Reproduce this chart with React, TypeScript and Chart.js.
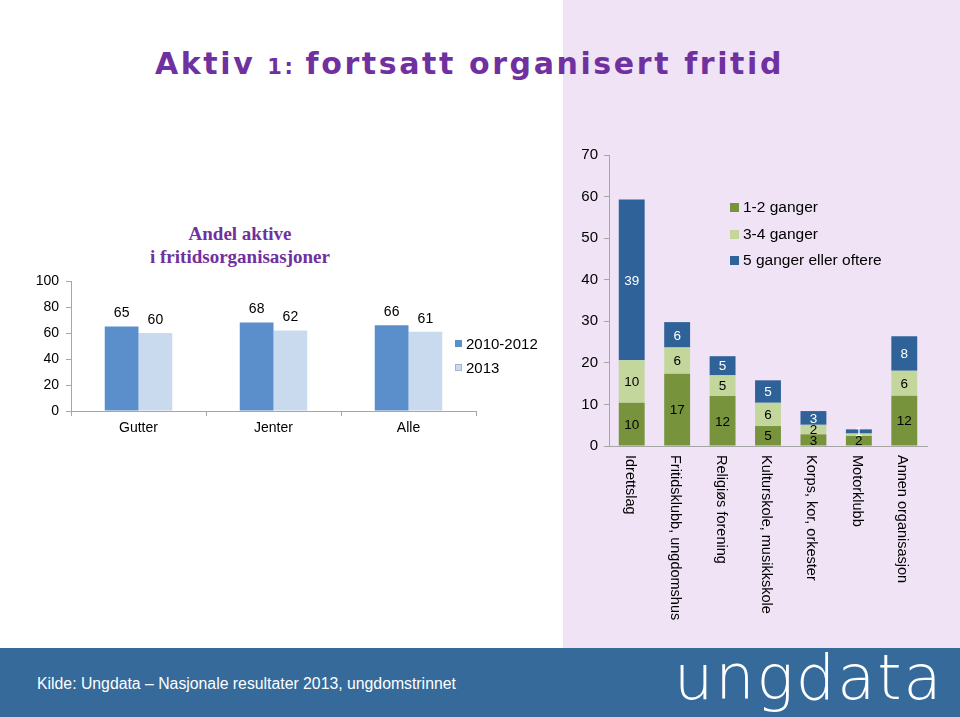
import React, { useEffect, useRef } from 'react';
import { Chart, registerables } from 'chart.js';

Chart.register(...registerables);

// ---- Left chart data ----
const groupCategories = ['Gutter', 'Jenter', 'Alle'];
const groupSeriesNames = ['2010-2012', '2013'];
const group2010 = [65, 68, 66];
const group2013 = [60, 62, 61];
const groupTickStep = 20;
const groupMax = 100;

// ---- Right chart data ----
const orgCategories = [
  'Idrettslag',
  'Fritidsklubb, ungdomshus',
  'Religiøs forening',
  'Kulturskole, musikkskole',
  'Korps, kor, orkester',
  'Motorklubb',
  'Annen organisasjon',
];
const orgSeriesNames = ['1-2 ganger', '3-4 ganger', '5 ganger eller oftere'];
const org12 = [10.4, 17.4, 12.0, 4.8, 2.8, 2.4, 12.1];
const org34 = [10.2, 6.3, 5.0, 5.6, 2.3, 0.6, 6.0];
const org5 = [38.7, 6.1, 4.6, 5.4, 3.3, 1.0, 8.3];
const orgTickStep = 10;
const orgMax = 70;

const C_DARKBLUE = '#5b8fcb';
const C_LIGHTBLUE = '#c9daef';
const C_GREEN = '#77933c';
const C_LIGHTGREEN = '#c3d69b';
const C_BLUE = '#2f6298';
const AXIS = '#a6a6a6';
const FONT = 'Arial, "Liberation Sans", sans-serif';

const groupLabelsPlugin = {
  id: 'groupLabels',
  afterDatasetsDraw(chart: any) {
    const ctx = chart.ctx;
    ctx.save();
    ctx.font = `14px ${FONT}`;
    ctx.fillStyle = '#000';
    ctx.textAlign = 'center';
    ctx.textBaseline = 'middle';
    chart.data.datasets.forEach((ds: any, di: number) => {
      const meta = chart.getDatasetMeta(di);
      meta.data.forEach((bar: any, i: number) => {
        ctx.fillText(String(ds.data[i]), bar.x, bar.y - 13);
      });
    });
    ctx.restore();
  },
};

const stackLabelsPlugin = {
  id: 'stackLabels',
  afterDatasetsDraw(chart: any) {
    const ctx = chart.ctx;
    ctx.save();
    ctx.font = `13.5px ${FONT}`;
    ctx.textAlign = 'center';
    ctx.textBaseline = 'middle';
    chart.data.datasets.forEach((ds: any, di: number) => {
      const meta = chart.getDatasetMeta(di);
      meta.data.forEach((bar: any, i: number) => {
        const v = ds.data[i];
        if (v < 0.8) return;
        ctx.fillStyle = di === 2 ? '#ffffff' : '#000000';
        ctx.fillText(String(Math.round(v)), bar.x, (bar.y + bar.base) / 2 + 1);
      });
    });
    ctx.restore();
  },
};

const rotatedXLabelsPlugin = {
  id: 'rotatedXLabels',
  afterDraw(chart: any) {
    const ctx = chart.ctx;
    const xs = chart.scales.x;
    ctx.save();
    ctx.font = `14.5px ${FONT}`;
    ctx.fillStyle = '#000';
    ctx.textAlign = 'left';
    ctx.textBaseline = 'middle';
    (chart.data.labels as string[]).forEach((lab, i) => {
      const x = xs.getPixelForValue(i);
      ctx.save();
      ctx.translate(x - 2, chart.chartArea.bottom + 9);
      ctx.rotate(Math.PI / 2);
      ctx.fillText(lab, 0, 0);
      ctx.restore();
    });
    ctx.restore();
  },
};

function GroupChart() {
  const ref = useRef<HTMLCanvasElement>(null);
  useEffect(() => {
    const chart = new Chart(ref.current!, {
      type: 'bar',
      data: {
        labels: groupCategories,
        datasets: [
          { label: groupSeriesNames[0], data: group2010, backgroundColor: C_DARKBLUE, borderWidth: 0 },
          { label: groupSeriesNames[1], data: group2013, backgroundColor: C_LIGHTBLUE, borderWidth: 0 },
        ],
      },
      options: {
        animation: false,
        responsive: false,
        maintainAspectRatio: false,
        layout: { padding: { left: 0, top: 91, right: 84, bottom: 0 } },
        plugins: { legend: { display: false }, tooltip: { enabled: false } },
        datasets: { bar: { categoryPercentage: 0.5, barPercentage: 1.0 } },
        scales: {
          x: {
            ticks: { font: { size: 14, family: FONT }, color: '#000', padding: 4 },
            grid: { drawOnChartArea: false, drawTicks: true, tickLength: 5, color: AXIS, offset: true },
            border: { color: AXIS },
            afterFit: (s: any) => { s.height = 39; },
          },
          y: {
            min: 0,
            max: groupMax,
            ticks: { stepSize: groupTickStep, font: { size: 14, family: FONT }, color: '#000', padding: 7 },
            grid: { drawOnChartArea: false, drawTicks: true, tickLength: 5, color: AXIS },
            border: { color: AXIS },
            afterFit: (s: any) => { s.width = 71; },
          },
        },
      },
      plugins: [groupLabelsPlugin],
    } as any);
    return () => chart.destroy();
  }, []);
  return <canvas ref={ref} width={560} height={260} style={{ position: 'absolute', left: 0, top: 190, width: 560, height: 260 }} />;
}

function OrgChart() {
  const ref = useRef<HTMLCanvasElement>(null);
  useEffect(() => {
    const chart = new Chart(ref.current!, {
      type: 'bar',
      data: {
        labels: orgCategories,
        datasets: [
          { label: orgSeriesNames[0], data: org12, backgroundColor: C_GREEN, borderWidth: 0 },
          { label: orgSeriesNames[1], data: org34, backgroundColor: C_LIGHTGREEN, borderWidth: 0 },
          { label: orgSeriesNames[2], data: org5, backgroundColor: C_BLUE, borderWidth: 0 },
        ],
      },
      options: {
        animation: false,
        responsive: false,
        maintainAspectRatio: false,
        layout: { padding: { left: 0, top: 15, right: 33, bottom: 0 } },
        plugins: { legend: { display: false }, tooltip: { enabled: false } },
        datasets: { bar: { categoryPercentage: 0.57, barPercentage: 1.0 } },
        scales: {
          x: {
            stacked: true,
            ticks: { display: false },
            grid: { drawOnChartArea: false, drawTicks: false, offset: true },
            border: { color: AXIS },
            afterFit: (s: any) => { s.height = 199; },
          },
          y: {
            stacked: true,
            min: 0,
            max: orgMax,
            ticks: { stepSize: orgTickStep, font: { size: 15, family: FONT }, color: '#000', padding: 6 },
            grid: { drawOnChartArea: false, drawTicks: true, tickLength: 5, color: AXIS },
            border: { color: AXIS },
            afterFit: (s: any) => { s.width = 49; },
          },
        },
      },
      plugins: [stackLabelsPlugin, rotatedXLabelsPlugin],
    } as any);
    return () => chart.destroy();
  }, []);
  return <canvas ref={ref} width={400} height={505} style={{ position: 'absolute', left: 560, top: 140, width: 400, height: 505 }} />;
}

const legendItem = (color: string, text: string, top: number, left: number, box: number, size: number, border?: string) => (
  <div key={text} style={{ position: 'absolute', left, top: top - 10, height: 20, display: 'flex', alignItems: 'center', whiteSpace: 'nowrap', fontFamily: FONT, fontSize: size, color: '#000' }}>
    <span style={{ display: 'inline-block', width: box, height: box, background: color, marginRight: 4, boxSizing: 'border-box', border: border ? `1px solid ${border}` : 'none' }} />
    {text}
  </div>
);

export default function App() {
  return (
    <div style={{ position: 'absolute', left: 0, top: 0, width: 960, height: 717, background: '#ffffff', overflow: 'hidden' }}>
      <div style={{ position: 'absolute', left: 563, top: 0, width: 397, height: 648, background: '#efe3f5' }} />
      <div style={{ position: 'absolute', left: 155, top: 49, whiteSpace: 'nowrap', fontFamily: '"DejaVu Sans", sans-serif', fontWeight: 700, fontSize: 30, lineHeight: '30px', letterSpacing: 2.6, color: '#7030a0' }}>
        Aktiv<span style={{ fontSize: 21, marginLeft: 12, marginRight: 10 }}>1:</span>fortsatt organisert fritid
      </div>
      <div style={{ position: 'absolute', left: 90, width: 300, top: 222, textAlign: 'center', fontFamily: '"Liberation Serif", "DejaVu Serif", serif', fontWeight: 700, fontSize: 19, lineHeight: '23px', color: '#7030a0' }}>
        Andel aktive<br />i fritidsorganisasjoner
      </div>
      <GroupChart />
      <OrgChart />
      {legendItem(C_DARKBLUE, groupSeriesNames[0], 343, 455, 7, 15)}
      {legendItem(C_LIGHTBLUE, groupSeriesNames[1], 367, 455, 7, 15, '#9fb6d3')}
      {legendItem(C_GREEN, orgSeriesNames[0], 207, 730, 9, 15.5)}
      {legendItem(C_LIGHTGREEN, orgSeriesNames[1], 234, 730, 9, 15.5)}
      {legendItem(C_BLUE, orgSeriesNames[2], 260, 730, 9, 15.5)}
      <div style={{ position: 'absolute', left: 0, top: 648, width: 960, height: 69, background: '#356a9a' }} />
      <div style={{ position: 'absolute', left: 37, top: 674, whiteSpace: 'nowrap', fontFamily: FONT, fontSize: 15.8, lineHeight: '20px', color: '#ffffff' }}>
        Kilde: Ungdata – Nasjonale resultater 2013, ungdomstrinnet
      </div>
      <div style={{ position: 'absolute', left: 674, top: 638, whiteSpace: 'nowrap', fontFamily: '"DejaVu Sans", sans-serif', fontWeight: 200, fontSize: 62, lineHeight: '80px', letterSpacing: 2, color: '#ffffff' }}>
        ungdata
      </div>
    </div>
  );
}
